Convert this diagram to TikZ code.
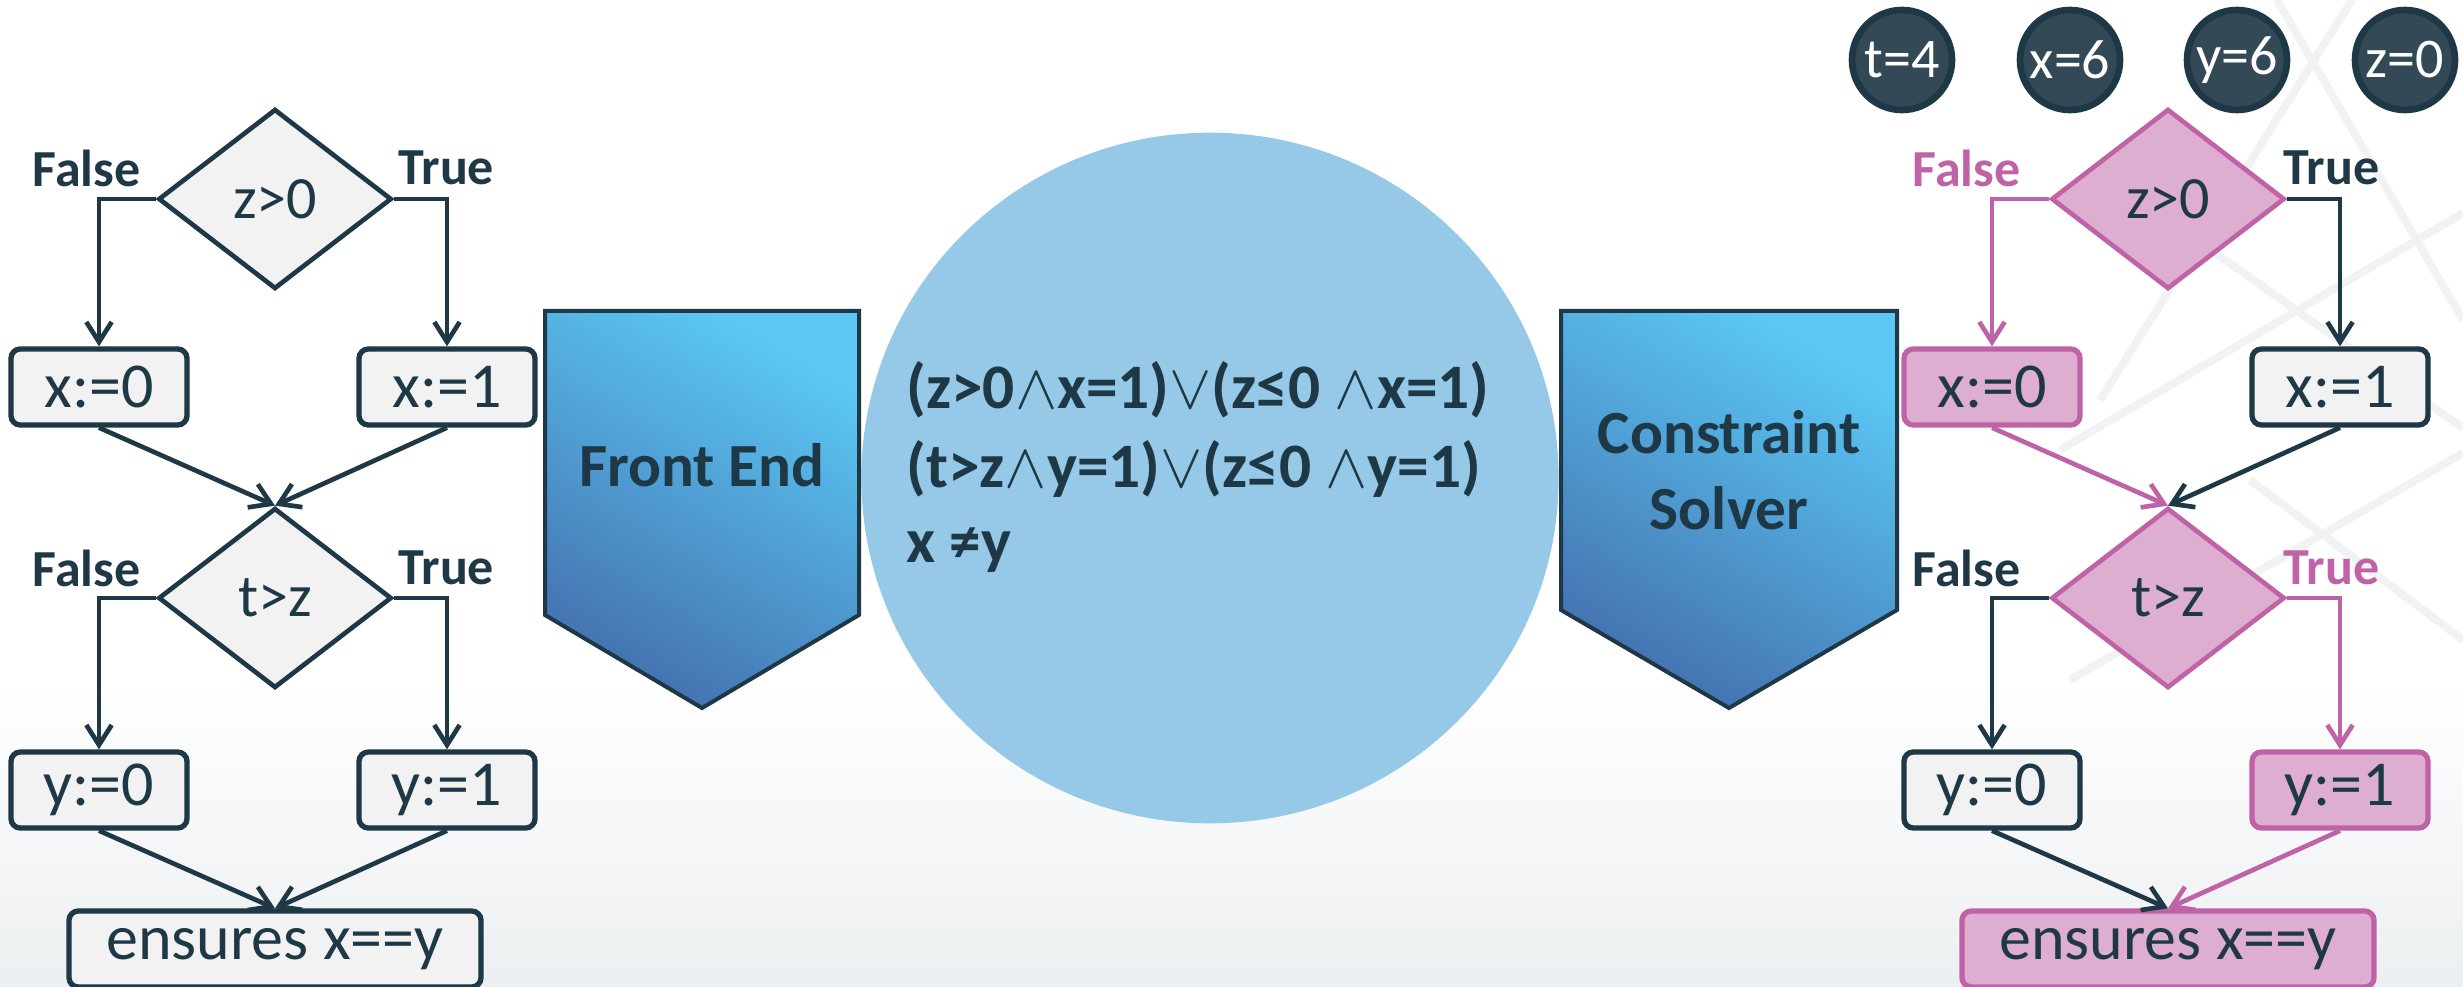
\documentclass[tikz,border=0pt]{standalone}
\usepackage{fix-cm}
\usepackage{fontspec}
\setmainfont{Carlito}
\usetikzlibrary{arrows.meta,shapes.geometric,calc}

\definecolor{ink}{RGB}{30,56,70}
\definecolor{pathpink}{RGB}{192,98,166}
\definecolor{pinkfill}{RGB}{222,174,208}
\definecolor{boxgray}{RGB}{242,242,242}
\definecolor{cnfblue}{RGB}{150,201,232}
\definecolor{valfill}{RGB}{52,73,86}
\definecolor{stagelight}{RGB}{91,200,245}
\definecolor{stagedark}{RGB}{68,114,176}
\definecolor{bgline}{RGB}{241,242,243}
\definecolor{bgfloor}{RGB}{236,239,241}

\tikzset{every picture/.style={line width=0.75pt}}
\tikzset{
  stmt/.style={draw=ink,fill=boxgray,line width=4pt,rounded corners=7pt,minimum width=132pt,minimum height=57pt,inner sep=0pt,text=ink,font=\fontsize{48}{58}\selectfont},
  test/.style={diamond,draw=ink,fill=boxgray,line width=3.5pt,minimum width=175pt,minimum height=135pt,inner sep=0pt,text=ink,font=\fontsize{45}{54}\selectfont},
  hot/.style={draw=pathpink,fill=pinkfill},
  branch/.style={inner sep=0pt,text=ink,font=\bfseries\fontsize{39}{47}\selectfont},
  flow/.style={draw=ink,line width=3.5pt,-{Straight Barb[length=15pt,width=19pt]}},
  hotflow/.style={flow,draw=pathpink},
  val/.style={circle,draw=ink,fill=valfill,line width=5pt,minimum size=75pt,inner sep=0pt,text=white,font=\fontsize{42}{50}\selectfont},
  stage/.style={draw=ink,line width=3pt,top color=stagelight,middle color=stagelight,bottom color=stagedark,shading angle=-30},
  stagetext/.style={inner sep=0pt,text=ink,align=center,font=\bfseries\fontsize{46}{57}\selectfont},
  cnftext/.style={anchor=base west,inner sep=0pt,text=ink,font=\bfseries\fontsize{47.5}{56}\selectfont},
  bgstroke/.style={draw=bgline,line width=6pt},
}
\newcommand{\opand}{$\wedge$}
\newcommand{\opor}{$\vee$}

\begin{document}
\begin{tikzpicture}[x=0.75pt,y=0.75pt,yscale=-1,xscale=1]
\useasboundingbox (0,0) rectangle (2463,987);

% slide background
\shade [top color=white,bottom color=bgfloor] (0,680) rectangle (2463,987);
\draw [bgstroke] (2277,0) -- (2463,320);
\draw [bgstroke] (2352,0) -- (2100,400);
\draw [bgstroke] (2463,213) -- (2060,450);
\draw [bgstroke] (2463,453) -- (2070,680);
\draw [bgstroke] (2187,233) -- (2463,428);
\draw [bgstroke] (2250,480) -- (2463,640);

% constraint set
\node [ellipse,fill=cnfblue,minimum width=523pt,minimum height=518pt,inner sep=0pt] (cnf) at (1210,478) {};
\node [cnftext] (cnf1) at (906,409) {(z>0\opand x=1)\opor(z≤0 \opand x=1)};
\node [cnftext] (cnf2) at (906,487) {(t>z\opand y=1)\opor(z≤0 \opand y=1)};
\node [cnftext] (cnf3) at (906,562) {x ≠y};

% pipeline stages
\shadedraw [stage] (545,311) -- (859,311) -- (859,615) -- (702,708) -- (545,615) -- cycle;
\node [stagetext] (front) at (702,465) {Front End};
\shadedraw [stage] (1561,311) -- (1897,311) -- (1897,610) -- (1729,708) -- (1561,610) -- cycle;
\node [stagetext] (solver) at (1729,470) {Constraint\\Solver};

% program (left)
\node [test] (lz) at (275,199) {z>0};
\node [stmt] (lx0) at (99,387) {x:=0};
\node [stmt] (lx1) at (447,387) {x:=1};
\node [test] (lt) at (275,598) {t>z};
\node [stmt] (ly0) at (99,790) {y:=0};
\node [stmt] (ly1) at (447,790) {y:=1};
\node [stmt,minimum width=309pt] (le) at (275,949) {ensures x==y};
\node [branch,anchor=base east] (lzf) at ($(lz.west)+(-15,-12)$) {False};
\node [branch,anchor=base west] (lzt) at ($(lz.east)+(4,-14)$) {True};
\node [branch,anchor=base east] (ltf) at ($(lt.west)+(-15,-12)$) {False};
\node [branch,anchor=base west] (ltt) at ($(lt.east)+(4,-14)$) {True};

\draw [flow] (lz.west) -| (lx0.north);
\draw [flow] (lz.east) -| (lx1.north);
\draw [flow] (lx0.south) -- (lt.north);
\draw [flow] (lx1.south) -- (lt.north);
\draw [flow] (lt.west) -| (ly0.north);
\draw [flow] (lt.east) -| (ly1.north);
\draw [flow] (ly0.south) -- (le.north);
\draw [flow] (ly1.south) -- (le.north);

% model values
\node [val] (vt) at (1902,60) {t=4};
\node [val] (vx) at (2070,60) {x=6};
\node [val] (vy) at (2237,60) {y=6};
\node [val] (vz) at (2405,60) {z=0};

% program (right) with the path taken
\node [test,hot] (rz) at (2168,199) {z>0};
\node [stmt,hot] (rx0) at (1992,387) {x:=0};
\node [stmt] (rx1) at (2340,387) {x:=1};
\node [test,hot] (rt) at (2168,598) {t>z};
\node [stmt] (ry0) at (1992,790) {y:=0};
\node [stmt,hot] (ry1) at (2340,790) {y:=1};
\node [stmt,hot,minimum width=309pt] (re) at (2168,949) {ensures x==y};
\node [branch,anchor=base east,text=pathpink] (rzf) at ($(rz.west)+(-28,-12)$) {False};
\node [branch,anchor=base west] (rzt) at ($(rz.east)+(-4,-14)$) {True};
\node [branch,anchor=base east] (rtf) at ($(rt.west)+(-28,-12)$) {False};
\node [branch,anchor=base west,text=pathpink] (rtt) at ($(rt.east)+(-4,-14)$) {True};

\draw [hotflow] (rz.west) -| (rx0.north);
\draw [flow] (rz.east) -| (rx1.north);
\draw [hotflow] (rx0.south) -- (rt.north);
\draw [flow] (rx1.south) -- (rt.north);
\draw [flow] (rt.west) -| (ry0.north);
\draw [hotflow] (rt.east) -| (ry1.north);
\draw [flow] (ry0.south) -- (re.north);
\draw [hotflow] (ry1.south) -- (re.north);

\end{tikzpicture}
\end{document}
